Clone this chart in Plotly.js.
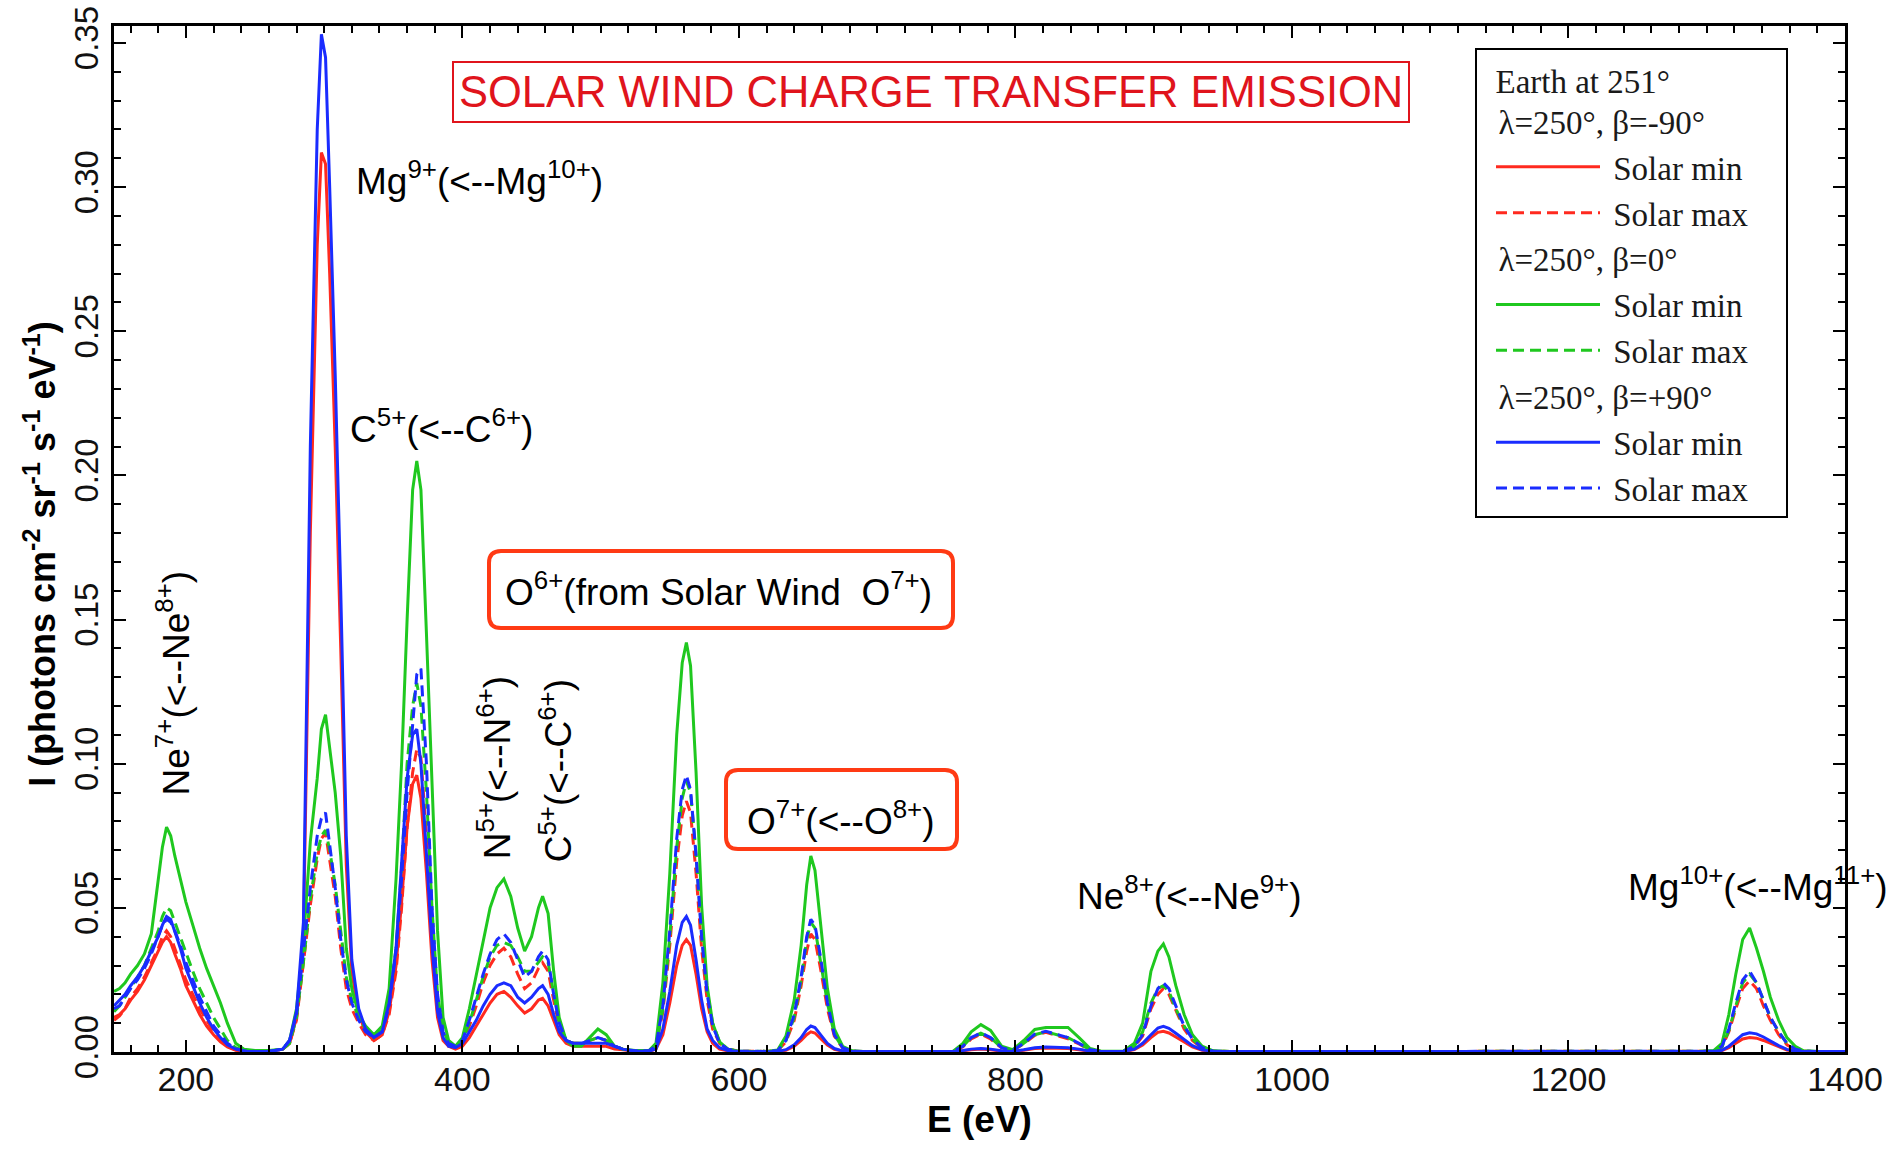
<!DOCTYPE html>
<html>
<head>
<meta charset="utf-8">
<script src="https://cdn.plot.ly/plotly-3.0.1.min.js"></script>
<style>
  html, body { margin: 0; padding: 0; background: #ffffff; }
  #chart { width: 1893px; height: 1152px; }
</style>
</head>
<body>
<div id="chart"></div>
<script>
// ---- Data ----
const energy = [
  148,152,156,160,165,170,175,180,183,186,189,192,196,200,205,210,215,220,225,230,236,242,250,260,
  270,275,280,285,290,295,298,301,304,308,312,316,320,325,330,336,
  342,347,352,356,360,364,367,370,374,378,382,386,390,395,
  400,405,410,415,420,425,430,435,440,445,450,455,458,462,466,470,475,480,486,492,498,504,510,516,525,
  535,540,545,550,555,559,562,565,569,573,577,581,586,592,600,
  620,628,634,640,645,649,652,655,659,664,669,675,682,690,
  720,755,762,768,775,782,790,798,806,814,822,830,838,846,854,862,878,886,892,898,903,907,911,916,922,928,935,943,955,
  1100,1250,1295,1305,1311,1316,1321,1326,1331,1336,1341,1346,1352,1358,1364,1370,1380,1400
];

// beta = -90 deg, red
const southMin = [
  0.012,0.013,0.015,0.018,0.021,0.025,0.030,0.035,0.038,0.040,0.038,0.034,0.029,0.023,0.018,0.013,0.009,0.006,0.0035,0.0018,0.0006,0.0002,0.0001,0.0001,
  0.001,0.003,0.012,0.040,0.18,0.28,0.312,0.308,0.27,0.21,0.14,0.065,0.028,0.013,0.007,0.004,
  0.006,0.014,0.030,0.052,0.078,0.093,0.096,0.088,0.062,0.032,0.012,0.004,0.002,0.001,
  0.002,0.005,0.009,0.013,0.017,0.020,0.021,0.019,0.016,0.0135,0.015,0.018,0.0186,0.016,0.011,0.006,0.003,0.002,0.002,0.002,0.002,0.002,0.001,0.0008,0.0002,
  0.0002,0.001,0.006,0.017,0.030,0.037,0.039,0.037,0.027,0.015,0.007,0.003,0.001,0.0004,0.0002,
  0.0001,0.0002,0.0006,0.002,0.004,0.006,0.007,0.0066,0.0047,0.0024,0.0009,0.0003,0.0001,0.0001,
  0.0001,0.0001,0.0004,0.0008,0.001,0.0008,0.0003,0.0001,0.0006,0.0012,0.0014,0.0013,0.0012,0.0008,0.0002,0.0001,0.0001,0.0008,0.0024,0.005,0.0068,0.0072,0.0066,0.0052,0.0034,0.0018,0.0006,0.0002,0.0001,
  0.0001,0.0001,0.0001,0.0002,0.0005,0.0015,0.003,0.0045,0.005,0.0048,0.004,0.003,0.0017,0.0007,0.0002,0.0001,0.0001,0.0001
];
const southMax = [
  0.011,0.0125,0.015,0.019,0.022,0.026,0.031,0.036,0.040,0.042,0.040,0.036,0.031,0.025,0.020,0.015,0.011,0.007,0.0045,0.002,0.0008,0.0003,0.0001,0.0001,
  0.001,0.003,0.011,0.030,0.051,0.067,0.074,0.076,0.067,0.054,0.036,0.022,0.015,0.010,0.006,0.004,
  0.006,0.013,0.028,0.050,0.078,0.097,0.105,0.102,0.075,0.040,0.016,0.006,0.002,0.0015,
  0.003,0.009,0.016,0.024,0.030,0.034,0.036,0.033,0.027,0.022,0.024,0.029,0.031,0.028,0.018,0.009,0.004,0.003,0.003,0.004,0.005,0.004,0.002,0.001,0.0004,
  0.0004,0.002,0.014,0.037,0.066,0.082,0.087,0.083,0.062,0.036,0.018,0.008,0.003,0.001,0.0003,
  0.0002,0.0005,0.0035,0.011,0.023,0.035,0.041,0.039,0.029,0.015,0.0055,0.0014,0.0003,0.0002,
  0.0001,0.0002,0.0018,0.0045,0.0062,0.0045,0.0014,0.0005,0.0028,0.0058,0.0068,0.0058,0.0046,0.0028,0.0007,0.0002,0.0002,0.0018,0.0055,0.015,0.020,0.022,0.020,0.0145,0.008,0.004,0.0013,0.0003,0.0002,
  0.0002,0.0002,0.0002,0.0003,0.0017,0.007,0.015,0.022,0.0247,0.022,0.016,0.011,0.006,0.0025,0.0008,0.0003,0.0002,0.0002
];

// beta = 0 deg, green
const eclipticMin = [
  0.021,0.022,0.024,0.027,0.030,0.034,0.041,0.060,0.071,0.078,0.075,0.068,0.060,0.052,0.044,0.036,0.029,0.023,0.017,0.010,0.003,0.001,0.0005,0.0005,
  0.001,0.004,0.015,0.038,0.073,0.095,0.112,0.117,0.105,0.090,0.068,0.036,0.022,0.013,0.009,0.006,
  0.009,0.022,0.060,0.100,0.150,0.195,0.205,0.195,0.145,0.090,0.042,0.012,0.004,0.002,
  0.005,0.015,0.027,0.039,0.050,0.057,0.060,0.054,0.043,0.035,0.040,0.050,0.054,0.048,0.028,0.012,0.004,0.002,0.002,0.005,0.008,0.006,0.002,0.001,0.0005,
  0.0005,0.003,0.024,0.062,0.110,0.135,0.142,0.134,0.097,0.051,0.023,0.010,0.0035,0.001,0.0003,
  0.0002,0.0007,0.0055,0.018,0.037,0.058,0.068,0.063,0.045,0.022,0.008,0.002,0.0004,0.0002,
  0.0002,0.0003,0.003,0.007,0.0095,0.0075,0.002,0.0008,0.004,0.0078,0.0085,0.0085,0.0085,0.005,0.0012,0.0003,0.0003,0.003,0.010,0.028,0.035,0.0375,0.033,0.023,0.013,0.006,0.002,0.0004,0.0002,
  0.0002,0.0002,0.0002,0.0005,0.003,0.013,0.027,0.039,0.043,0.036,0.028,0.019,0.011,0.005,0.002,0.0004,0.0002,0.0002
];
const eclipticMax = [
  0.014,0.016,0.019,0.022,0.026,0.030,0.036,0.042,0.047,0.050,0.049,0.045,0.040,0.034,0.028,0.022,0.017,0.012,0.008,0.004,0.0015,0.0005,0.0003,0.0003,
  0.001,0.003,0.012,0.031,0.053,0.069,0.075,0.077,0.070,0.058,0.042,0.026,0.018,0.012,0.008,0.005,
  0.008,0.017,0.036,0.064,0.100,0.120,0.128,0.120,0.090,0.050,0.020,0.008,0.003,0.002,
  0.004,0.010,0.018,0.026,0.033,0.037,0.038,0.037,0.033,0.028,0.028,0.031,0.033,0.031,0.021,0.010,0.004,0.003,0.003,0.004,0.005,0.004,0.002,0.001,0.0004,
  0.0005,0.002,0.015,0.040,0.071,0.088,0.094,0.090,0.069,0.041,0.021,0.010,0.0035,0.001,0.0003,
  0.0002,0.0005,0.004,0.012,0.025,0.039,0.045,0.043,0.032,0.017,0.006,0.0015,0.0003,0.0002,
  0.0002,0.0002,0.002,0.005,0.0065,0.005,0.0015,0.0005,0.003,0.006,0.007,0.006,0.005,0.003,0.0008,0.0002,0.0002,0.002,0.007,0.017,0.022,0.023,0.021,0.015,0.009,0.0045,0.0015,0.0003,0.0002,
  0.0002,0.0002,0.0002,0.0003,0.0018,0.0075,0.016,0.024,0.027,0.024,0.018,0.012,0.007,0.003,0.001,0.0003,0.0002,0.0002
];

// beta = +90 deg, blue
const northMin = [
  0.016,0.018,0.020,0.023,0.026,0.030,0.035,0.040,0.044,0.047,0.046,0.042,0.036,0.029,0.023,0.017,0.012,0.008,0.005,0.0025,0.001,0.0003,0.0002,0.0002,
  0.001,0.004,0.014,0.045,0.21,0.32,0.353,0.345,0.30,0.235,0.16,0.075,0.032,0.015,0.008,0.005,
  0.007,0.017,0.036,0.065,0.095,0.110,0.112,0.100,0.070,0.037,0.014,0.005,0.002,0.0015,
  0.003,0.007,0.011,0.016,0.020,0.023,0.024,0.023,0.019,0.017,0.019,0.022,0.023,0.020,0.013,0.007,0.004,0.003,0.003,0.003,0.003,0.003,0.002,0.001,0.0003,
  0.0003,0.001,0.008,0.021,0.037,0.045,0.047,0.044,0.032,0.018,0.008,0.004,0.0015,0.0005,0.0002,
  0.0001,0.0002,0.0008,0.0025,0.005,0.0078,0.009,0.0085,0.006,0.003,0.0012,0.0004,0.0002,0.0002,
  0.0002,0.0002,0.0005,0.001,0.0012,0.001,0.0004,0.0002,0.0008,0.0015,0.0017,0.0016,0.0015,0.001,0.0003,0.0002,0.0002,0.001,0.003,0.006,0.0083,0.0089,0.0082,0.0065,0.0042,0.0022,0.0008,0.0002,0.0002,
  0.0002,0.0002,0.0002,0.0002,0.0006,0.002,0.004,0.006,0.0067,0.0063,0.0052,0.0038,0.0022,0.0009,0.0003,0.0002,0.0002,0.0002
];
const northMax = [
  0.015,0.016,0.019,0.022,0.025,0.029,0.034,0.040,0.044,0.046,0.045,0.042,0.037,0.031,0.025,0.019,0.014,0.009,0.006,0.003,0.0012,0.0004,0.0002,0.0002,
  0.001,0.004,0.013,0.034,0.057,0.075,0.081,0.083,0.072,0.057,0.039,0.025,0.017,0.011,0.007,0.005,
  0.007,0.016,0.035,0.060,0.090,0.115,0.131,0.133,0.100,0.050,0.020,0.007,0.003,0.002,
  0.004,0.011,0.019,0.027,0.034,0.039,0.041,0.038,0.032,0.026,0.028,0.033,0.035,0.032,0.020,0.010,0.004,0.003,0.003,0.004,0.005,0.004,0.002,0.001,0.0004,
  0.0005,0.002,0.016,0.042,0.074,0.091,0.096,0.091,0.068,0.040,0.020,0.009,0.003,0.001,0.0003,
  0.0002,0.0005,0.004,0.013,0.026,0.040,0.046,0.044,0.033,0.017,0.006,0.0015,0.0003,0.0002,
  0.0002,0.0002,0.002,0.005,0.0066,0.005,0.0015,0.0005,0.003,0.0062,0.0072,0.006,0.005,0.003,0.0008,0.0002,0.0002,0.002,0.006,0.016,0.022,0.024,0.022,0.016,0.009,0.0045,0.0015,0.0003,0.0002,
  0.0002,0.0002,0.0002,0.0003,0.002,0.008,0.017,0.025,0.028,0.024,0.018,0.012,0.007,0.003,0.001,0.0003,0.0002,0.0002
];

const groupTitles = ['λ=250°, β=-90°', 'λ=250°, β=0°', 'λ=250°, β=+90°'];
const seriesNames = ['Solar min', 'Solar max'];
const legendTitle = 'Earth at 251°';
const chartTitle = 'SOLAR WIND CHARGE TRANSFER EMISSION';

// ---- Styling ----
const RED = '#ff2a1f', GREEN = '#1fc81f', BLUE = '#1a2cff';
const SERIF = '"Liberation Serif", "DejaVu Serif", serif';
const SANS = '"Liberation Sans", Arial, sans-serif';
const LEGEND_FONT = { family: SERIF, size: 33, color: '#1a1a1a' };
const NB = '\u00a0';   // non-breaking space used as small padding inside the legend

function trace(y, color, dashed, group, gi) {
  return {
    x: energy, y: y, type: 'scatter', mode: 'lines',
    name: NB + seriesNames[dashed ? 1 : 0] + NB + NB + NB + NB,
    legendgroup: group,
    legendgrouptitle: { text: NB + NB + groupTitles[gi], font: LEGEND_FONT },
    line: { color: color, width: 3, dash: dashed ? '11px,6px' : 'solid' },
    hoverinfo: 'x+y'
  };
}

const data = [
  trace(southMin, RED, false, 'south', 0),
  trace(southMax, RED, true, 'south', 0),
  trace(eclipticMin, GREEN, false, 'ecl', 1),
  trace(eclipticMax, GREEN, true, 'ecl', 1),
  trace(northMin, BLUE, false, 'north', 2),
  trace(northMax, BLUE, true, 'north', 2)
];

// pixel -> paper helpers for the rounded boxes
const ML = 114, MT = 26, PW = 1731, PH = 1026;
function px(xp) { return (xp - ML) / PW; }
function py(yp) { return (MT + PH - yp) / PH; }
function roundRect(x0, y0, x1, y1, r) {
  const a = px(x0), b = px(x1), t = py(y0), u = py(y1);
  const rx = r / PW, ry = r / PH;
  return 'M' + (a + rx) + ',' + t +
    ' L' + (b - rx) + ',' + t + ' Q' + b + ',' + t + ' ' + b + ',' + (t - ry) +
    ' L' + b + ',' + (u + ry) + ' Q' + b + ',' + u + ' ' + (b - rx) + ',' + u +
    ' L' + (a + rx) + ',' + u + ' Q' + a + ',' + u + ' ' + a + ',' + (u + ry) +
    ' L' + a + ',' + (t - ry) + ' Q' + a + ',' + t + ' ' + (a + rx) + ',' + t + ' Z';
}

const annFont = { family: SANS, size: 37, color: '#000000' };
function label(text, x, y, angle) {
  return { text: text, x: x, y: y, xref: 'x', yref: 'y', showarrow: false,
           font: annFont, textangle: angle || 0, xanchor: 'center', yanchor: 'middle' };
}

const layout = {
  width: 1893, height: 1152,
  margin: { l: ML, r: 48, t: MT, b: 100 },
  paper_bgcolor: '#ffffff', plot_bgcolor: '#ffffff',
  showlegend: true,
  xaxis: {
    range: [148, 1400], tick0: 0, dtick: 200,
    ticks: 'inside', ticklen: 12, tickwidth: 2, tickcolor: '#000',
    showline: true, linewidth: 3, linecolor: '#000', mirror: 'allticks',
    showgrid: false, zeroline: false, ticklabelstandoff: -5,
    tickfont: { family: SANS, size: 34, color: '#111' },
    minor: { ticks: 'inside', dtick: 20, tick0: 0, ticklen: 7, tickwidth: 2, tickcolor: '#000', showgrid: false },
    title: { text: '<b>E (eV)</b>', font: { family: SANS, size: 37, color: '#000' }, standoff: 10 }
  },
  yaxis: {
    range: [0, 0.3559], tick0: 0, dtick: 0.05, tickformat: '.2f', tickangle: -90,
    ticks: 'inside', ticklen: 12, tickwidth: 2, tickcolor: '#000',
    showline: true, linewidth: 3, linecolor: '#000', mirror: 'allticks',
    showgrid: false, zeroline: false,
    tickfont: { family: SANS, size: 33, color: '#111' },
    minor: { ticks: 'inside', dtick: 0.01, tick0: 0, ticklen: 7, tickwidth: 2, tickcolor: '#000', showgrid: false },
    title: { text: '<b>I (photons cm<sup>-2</sup> sr<sup>-1</sup> s<sup>-1</sup> eV<sup>-1</sup>)' + NB + NB + NB + '</b>',
             font: { family: SANS, size: 36, color: '#000' }, standoff: 2 }
  },
  legend: {
    title: { text: NB + NB + legendTitle, font: LEGEND_FONT },
    x: px(1475), y: py(48), xanchor: 'left', yanchor: 'top',
    bgcolor: '#ffffff', bordercolor: '#000000', borderwidth: 2,
    font: LEGEND_FONT, indentation: 14,
    tracegroupgap: 0, itemwidth: 104, traceorder: 'grouped'
  },
  annotations: [
    { text: chartTitle, xref: 'paper', yref: 'paper', x: px(931), y: py(92),
      xanchor: 'center', yanchor: 'middle', showarrow: false,
      font: { family: SANS, size: 43.5, color: '#e0141c' },
      bordercolor: '#e0141c', borderwidth: 2, borderpad: 5, bgcolor: '#ffffff' },
    label('Mg<sup>9+</sup>(<--Mg<sup>10+</sup>)', 412, 0.303),
    label('C<sup>5+</sup>(<--C<sup>6+</sup>)', 385, 0.217),
    label('Ne<sup>7+</sup>(<--Ne<sup>8+</sup>)', 191, 0.128, -90),
    label('N<sup>5+</sup>(<--N<sup>6+</sup>)', 423, 0.0985, -90),
    label('C<sup>5+</sup>(<--C<sup>6+</sup>)', 468, 0.0975, -90),
    label('O<sup>6+</sup>(from Solar Wind  O<sup>7+</sup>)', 585, 0.1605),
    label('O<sup>7+</sup>(<--O<sup>8+</sup>)', 674, 0.081),
    label('Ne<sup>8+</sup>(<--Ne<sup>9+</sup>)', 926, 0.055),
    label('Mg<sup>10+</sup>(<--Mg<sup>11+</sup>)', 1337, 0.058)
  ],
  shapes: [
    { type: 'path', xref: 'paper', yref: 'paper', path: roundRect(489, 551, 953, 628, 12),
      line: { color: '#ff3a14', width: 4 }, layer: 'above' },
    { type: 'path', xref: 'paper', yref: 'paper', path: roundRect(726, 770, 957, 849, 12),
      line: { color: '#ff3a14', width: 4 }, layer: 'above' }
  ]
};

Plotly.newPlot('chart', data, layout, { displayModeBar: false, responsive: false });
</script>
</body>
</html>
